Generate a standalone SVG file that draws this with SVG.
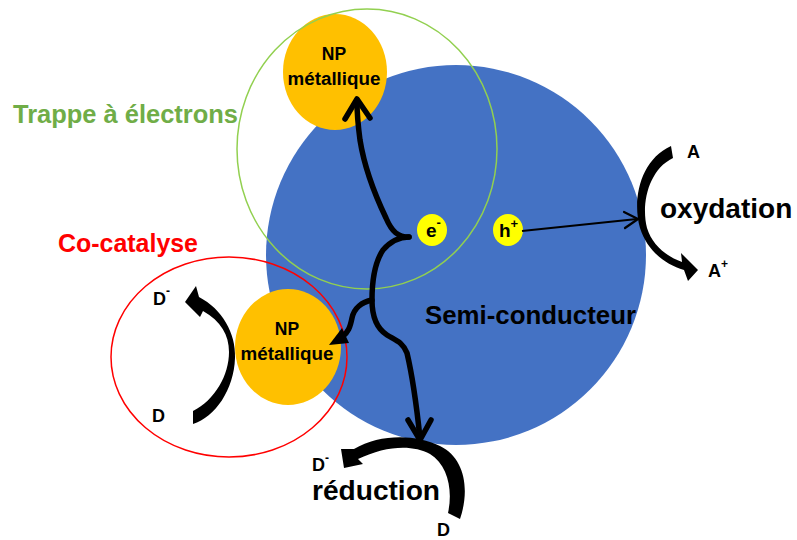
<svg xmlns="http://www.w3.org/2000/svg" width="797" height="540" viewBox="0 0 797 540">
<style>
text{font-family:"Liberation Sans",Arial,sans-serif;font-weight:bold;fill:#000}
.np{fill:#FFC000}
.npt{font-size:17.5px;text-anchor:middle}
.dot{fill:#FFFF00}
.lbl{font-size:18px}
.big{font-size:28px}
.wire{fill:none;stroke:#000;stroke-width:5.5;stroke-linecap:round;stroke-linejoin:round}
.band{fill:#000}
</style>
<rect width="797" height="540" fill="#fff"/>
<g id="semiconducteur">
<circle cx="456" cy="255" r="190" fill="#4472C4"/>
<text x="425" y="324" font-size="25" textLength="211" lengthAdjust="spacingAndGlyphs">Semi-conducteur</text>
</g>
<g id="np-top">
<ellipse class="np" cx="335" cy="72" rx="52" ry="58"/>
<text class="npt" x="334" y="60">NP</text>
<text class="npt" x="334" y="85" textLength="93" lengthAdjust="spacingAndGlyphs">métallique</text>
</g>
<g id="np-left">
<ellipse class="np" cx="288" cy="347" rx="53" ry="58"/>
<text class="npt" x="287" y="335">NP</text>
<text class="npt" x="287" y="360" textLength="93" lengthAdjust="spacingAndGlyphs">métallique</text>
</g>
<g id="trappe">
<ellipse cx="367" cy="149" rx="130" ry="140" fill="none" stroke="#92D050" stroke-width="1.5"/>
<text x="13" y="123" font-size="25" style="fill:#70AD47" textLength="225" lengthAdjust="spacingAndGlyphs">Trappe à électrons</text>
</g>
<g id="cocatalyse">
<ellipse cx="229" cy="357" rx="118" ry="100" fill="none" stroke="#FF0000" stroke-width="1.5"/>
<text x="58" y="252" font-size="25" style="fill:#FF0000" textLength="140" lengthAdjust="spacingAndGlyphs">Co-catalyse</text>
</g>
<g id="electron">
<ellipse class="dot" cx="432" cy="230" rx="15" ry="16"/>
<text x="426" y="237" font-size="19">e<tspan dy="-10" font-size="13">-</tspan></text>
</g>
<g id="trou">
<ellipse class="dot" cx="508" cy="230" rx="15" ry="16"/>
<text x="499" y="237" font-size="19">h<tspan dy="-9" font-size="13">+</tspan></text>
</g>
<g id="oxydation">
<path class="band" d="M671 146 C640 160 632 200 640 228 C647 250 664 264 684 270 L688 281 L698 270 L681 253 L682 262 C665 256 652 244 647 228 C641 205 648 170 673 158 Z"/>
<text x="687" y="158" class="lbl">A</text>
<text x="708" y="277" class="lbl">A<tspan dy="-9" font-size="12">+</tspan></text>
<text x="660" y="218" class="big">oxydation</text>
</g>
<g id="reduction">
<path class="band" d="M460 519 C470 490 465 458 440 446 C415 434 380 434 354 449 L341 449 L344 468 L363 464 L358 459 C385 446 412 444 430 454 C448 465 453 490 448 513 Z"/>
<text x="312" y="471" class="lbl">D<tspan dy="-9" font-size="12">-</tspan></text>
<text x="437" y="536" class="lbl">D</text>
<text x="312" y="500" class="big" font-size="27" textLength="128" lengthAdjust="spacingAndGlyphs">réduction</text>
</g>
<g id="catalyse-np">
<path class="band" d="M193 411 C215 400 229 375 229 352 C229 335 221 321 203 311 L200 317 L185 302 L196 286 L199 297 C222 309 236 333 235 358 C234 390 215 417 193 424 Z"/>
<text x="153" y="305" class="lbl">D<tspan dy="-10" font-size="12">-</tspan></text>
<text x="152" y="422" class="lbl">D</text>
</g>
<g id="connecteurs">
<path class="wire" d="M409 237 C398 237 392 232 386 218 C375 195 364 165 360 140 C358 125 357 112 357 101"/>
<path class="wire" d="M345 119 L357 99 L370 118"/>
<path class="wire" d="M409 237 C398 237 390 242 383 250 C375 262 372 280 372 300 C372 315 376 328 387 335 C395 340 403 342 407 353 C411 370 416 400 420 438"/>
<path class="wire" d="M408 420 L420 440 L431 420"/>
<path class="wire" d="M372 300 C362 302 354 308 352 318 C350 328 348 332 343 336"/>
<polygon points="329,345 349,343 342,328" fill="#000"/>
<path d="M522 231 L637 219" fill="none" stroke="#000" stroke-width="2.2"/>
<path d="M624 212 L638 219 L625 228" fill="none" stroke="#000" stroke-width="2.2" stroke-linejoin="round" stroke-linecap="round"/>
</g>
</svg>
